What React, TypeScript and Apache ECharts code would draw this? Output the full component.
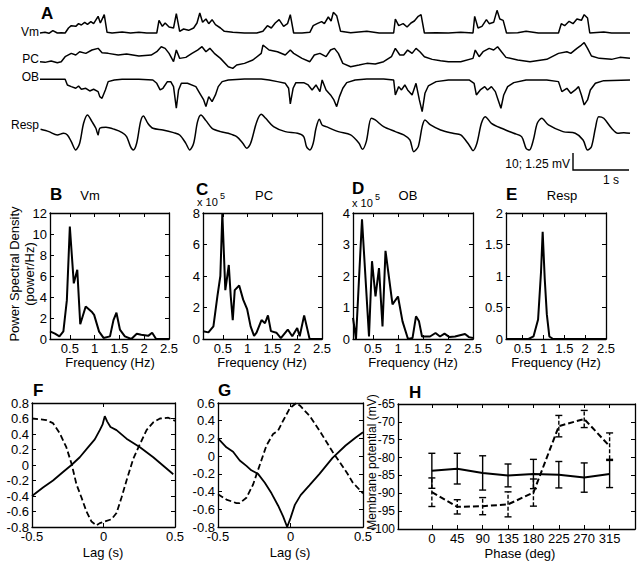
import React, { useEffect, useRef } from "react";
import * as echarts from "echarts";

// ---------- Panel A traces: [time (s), deflection (a.u., up = positive)] ----------
const vmTrace: [number, number][] = [[0,0],[0.09,2],[0.16,-1],[0.23,7],[0.31,0],[0.38,1],[0.45,0],[0.51,15],[0.56,22],[0.64,20],[0.69,28],[0.74,24],[0.8,32],[0.85,26],[0.91,34],[0.96,28],[1.04,50],[1.08,30],[1.15,55],[1.2,2],[1.29,0],[1.47,3],[1.62,0],[1.77,2],[1.91,0],[2.09,0],[2.13,38],[2.19,20],[2.24,30],[2.31,18],[2.39,15],[2.44,58],[2.5,5],[2.57,12],[2.66,8],[2.75,15],[2.81,30],[2.86,60],[2.91,32],[2.97,42],[3.02,28],[3.08,40],[3.14,25],[3.23,15],[3.3,5],[3.45,2],[3.66,0],[3.88,0],[3.99,5],[4.07,22],[4.14,15],[4.21,30],[4.28,40],[4.36,20],[4.43,28],[4.48,55],[4.54,0],[4.69,0],[4.83,2],[4.89,22],[4.96,28],[5.04,34],[5.09,28],[5.16,48],[5.21,36],[5.25,62],[5.31,52],[5.38,5],[5.56,1],[5.85,5],[6.07,0],[6.33,0],[6.36,42],[6.42,22],[6.5,28],[6.57,18],[6.64,30],[6.7,36],[6.77,50],[6.82,55],[6.88,0],[7.09,1],[7.31,0],[7.53,2],[7.75,0],[7.78,50],[7.84,15],[7.91,20],[7.99,40],[8.04,28],[8.12,32],[8.18,68],[8.23,42],[8.29,38],[8.35,0],[8.55,1],[8.7,5],[8.92,0],[9.28,0],[9.33,28],[9.39,22],[9.47,35],[9.54,28],[9.61,42],[9.69,38],[9.74,55],[9.8,45],[9.84,0],[10.09,3],[10.23,0],[10.56,0]];

const pcTrace: [number, number][] = [[0,0],[0.09,-2],[0.2,2],[0.31,-3],[0.38,0],[0.45,15],[0.56,25],[0.64,20],[0.71,30],[0.82,25],[0.93,35],[1.04,40],[1.11,27],[1.22,25],[1.4,20],[1.55,23],[1.77,17],[1.99,20],[2.09,30],[2.17,45],[2.24,40],[2.31,25],[2.39,0],[2.44,35],[2.5,10],[2.61,13],[2.72,25],[2.82,35],[2.9,45],[2.97,30],[3.04,40],[3.12,25],[3.23,10],[3.37,-15],[3.45,-20],[3.52,-10],[3.66,-5],[3.81,5],[3.96,25],[3.99,50],[4.1,35],[4.25,30],[4.39,20],[4.48,35],[4.54,25],[4.69,10],[4.83,0],[4.91,20],[5.01,25],[5.12,15],[5.2,35],[5.27,40],[5.34,25],[5.42,-5],[5.56,-15],[5.71,-10],[5.85,-5],[6,-7],[6.15,0],[6.29,15],[6.36,40],[6.44,20],[6.51,20],[6.58,35],[6.66,25],[6.73,40],[6.8,30],[6.88,15],[7.02,7],[7.17,3],[7.31,0],[7.53,0],[7.75,10],[7.79,35],[7.86,15],[7.93,30],[8.04,40],[8.12,35],[8.19,45],[8.26,30],[8.34,13],[8.55,5],[8.77,0],[9.07,7],[9.28,25],[9.43,30],[9.5,25],[9.61,40],[9.69,50],[9.74,57],[9.8,40],[9.87,17],[10.01,10],[10.23,7],[10.38,13],[10.56,10]];

const obTrace: [number, number][] = [[0,0],[0.45,0],[0.49,-17],[0.56,-22],[0.64,-27],[0.69,-20],[0.74,-30],[0.82,-27],[0.89,-35],[0.96,-30],[1.04,-37],[1.07,-52],[1.11,-57],[1.17,-32],[1.22,-7],[1.33,-2],[1.47,0],[1.77,0],[2.02,-2],[2.09,-12],[2.15,-32],[2.2,-27],[2.28,-7],[2.34,-7],[2.39,-22],[2.44,-87],[2.48,-32],[2.53,-12],[2.64,-12],[2.79,-22],[2.86,-42],[2.93,-62],[2.97,-82],[3.02,-52],[3.08,-67],[3.14,-47],[3.19,-22],[3.26,-7],[3.37,-2],[3.66,1],[3.96,1],[4.1,-2],[4.25,-7],[4.39,-12],[4.45,-27],[4.48,-74],[4.53,-27],[4.58,-10],[4.72,-10],[4.8,-17],[4.87,-32],[4.94,-17],[5.01,-37],[5.05,-2],[5.12,-32],[5.2,-47],[5.26,-62],[5.31,-82],[5.36,-52],[5.42,-27],[5.49,-10],[5.64,-2],[5.85,1],[6.15,1],[6.33,-2],[6.36,-47],[6.42,-22],[6.47,-32],[6.53,-17],[6.58,-32],[6.66,-47],[6.73,-12],[6.79,-62],[6.84,-97],[6.89,-42],[6.95,-20],[7.09,-7],[7.31,-2],[7.68,-2],[7.77,-12],[7.81,-47],[7.88,-32],[7.96,-22],[8.01,-32],[8.08,-22],[8.15,-37],[8.2,-62],[8.25,-87],[8.3,-47],[8.37,-22],[8.48,-10],[8.7,-2],[9.07,-2],[9.28,-7],[9.34,-37],[9.43,-27],[9.5,-42],[9.58,-32],[9.64,-22],[9.69,-47],[9.74,-77],[9.8,-62],[9.85,-32],[9.94,-12],[10.09,-4],[10.56,-2]];

const respTrace: [number, number][] = [[0.01,12],[0.16,5],[0.31,-5],[0.42,0],[0.49,-5],[0.56,-25],[0.64,-50],[0.71,-30],[0.78,30],[0.85,55],[0.93,35],[1,15],[1.04,-5],[1.07,15],[1.18,18],[1.33,12],[1.47,2],[1.55,-10],[1.62,-40],[1.67,-50],[1.73,-30],[1.8,35],[1.85,52],[1.93,30],[2.02,15],[2.2,10],[2.39,2],[2.5,-5],[2.61,-30],[2.68,-50],[2.75,-30],[2.82,35],[2.88,55],[2.97,38],[3.08,15],[3.23,5],[3.37,0],[3.52,-10],[3.63,-30],[3.7,-45],[3.77,-30],[3.88,35],[3.96,57],[4.04,45],[4.18,20],[4.39,5],[4.61,0],[4.72,-10],[4.77,-40],[4.83,-50],[4.89,-30],[4.94,15],[5,42],[5.05,25],[5.12,20],[5.34,5],[5.56,-5],[5.71,-30],[5.77,-48],[5.84,-25],[5.93,45],[6,40],[6.15,20],[6.36,5],[6.51,-5],[6.62,-20],[6.69,-55],[6.77,-40],[6.84,20],[6.89,40],[6.99,25],[7.17,10],[7.39,0],[7.53,-5],[7.68,-35],[7.75,-52],[7.82,-30],[7.9,30],[7.97,50],[8.08,30],[8.26,15],[8.48,0],[8.62,-10],[8.7,-45],[8.76,-50],[8.83,-20],[8.9,30],[8.98,45],[9.1,25],[9.36,5],[9.58,0],[9.72,-20],[9.8,-50],[9.87,-40],[9.94,15],[10,50],[10.09,45],[10.23,15],[10.34,0],[10.45,2],[10.56,0]];

// ---------- Panels B-E: power spectral density [frequency (Hz), power] ----------
const freqTicks = [0.5, 1, 1.5, 2, 2.5];
const vmPsd: [number, number][] = [[0.1,0.73],[0.2,0.51],[0.29,0.25],[0.37,0.73],[0.44,3.7],[0.5,10.7],[0.58,5.3],[0.65,6.6],[0.71,1.4],[0.82,3.1],[0.94,2.6],[0.99,2.3],[1.09,0.7],[1.18,0.1],[1.31,0.25],[1.38,1.8],[1.44,2.5],[1.51,0.9],[1.61,0.25],[1.74,0],[1.85,0.5],[1.94,0.4],[2.08,0.3],[2.16,0.6],[2.24,0],[2.5,0]];
const pcPsd: [number, number][] = [[0.1,0.49],[0.21,0.42],[0.31,0.8],[0.39,2.7],[0.45,4.0],[0.49,8.0],[0.55,3.1],[0.59,4.0],[0.62,4.7],[0.66,2.7],[0.7,1.2],[0.74,3.1],[0.83,3.4],[0.91,2.5],[0.99,1.9],[1.06,0.8],[1.13,0.2],[1.18,0.4],[1.28,1.2],[1.35,1.0],[1.41,1.5],[1.47,0.5],[1.58,0.4],[1.67,0.06],[1.81,0.6],[1.9,0.17],[2.0,0.7],[2.05,0.17],[2.14,1.5],[2.25,0],[2.5,0]];
const obPsd: [number, number][] = [[0.1,0.67],[0.16,0],[0.28,3.8],[0.42,0.08],[0.48,2.47],[0.55,1.35],[0.62,2.25],[0.69,0.4],[0.75,2.8],[0.89,1.1],[1.0,1.35],[1.09,0.56],[1.2,0],[1.29,0.03],[1.36,0.72],[1.42,0.56],[1.48,0.08],[1.64,0.08],[1.75,0.19],[1.84,0.08],[1.93,0.17],[2.03,0.06],[2.14,0.08],[2.34,0.16],[2.42,0.06],[2.5,0.03]];
const respPsd: [number, number][] = [[0.1,0],[0.64,0],[0.76,0.04],[0.87,0.31],[0.94,1.06],[0.98,1.7],[1.03,0.95],[1.08,0.39],[1.14,0.04],[1.23,0],[2.5,0]];

// ---------- Panels F-G: cross-correlation [lag (s), r] ----------
const fSolid: [number, number][] = [[-0.5,-0.4],[-0.423,-0.29],[-0.353,-0.2],[-0.283,-0.09],[-0.224,0],[-0.166,0.1],[-0.107,0.23],[-0.061,0.33],[-0.026,0.45],[-0.007,0.52],[0.009,0.63],[0.026,0.56],[0.049,0.49],[0.091,0.45],[0.161,0.34],[0.255,0.23],[0.348,0.1],[0.418,-0.01],[0.488,-0.12]];
const fDashed: [number, number][] = [[-0.5,0.6],[-0.4,0.58],[-0.353,0.54],[-0.306,0.41],[-0.26,0.23],[-0.224,0.02],[-0.189,-0.25],[-0.154,-0.42],[-0.119,-0.6],[-0.084,-0.73],[-0.049,-0.78],[-0.026,-0.75],[0.009,-0.73],[0.056,-0.7],[0.091,-0.62],[0.126,-0.42],[0.161,-0.2],[0.208,0.08],[0.255,0.27],[0.301,0.45],[0.348,0.55],[0.395,0.6],[0.453,0.61],[0.5,0.57]];
const gSolid: [number, number][] = [[-0.5,0.2],[-0.442,0.1],[-0.396,0.05],[-0.35,-0.05],[-0.304,-0.11],[-0.27,-0.16],[-0.224,-0.2],[-0.177,-0.3],[-0.131,-0.42],[-0.085,-0.56],[-0.051,-0.68],[-0.023,-0.8],[0,-0.7],[0.03,-0.55],[0.07,-0.44],[0.13,-0.33],[0.2,-0.2],[0.29,-0.02],[0.38,0.12],[0.45,0.21],[0.5,0.27]];
const gDashed: [number, number][] = [[-0.5,-0.43],[-0.442,-0.49],[-0.373,-0.53],[-0.35,-0.53],[-0.304,-0.47],[-0.258,-0.32],[-0.212,-0.1],[-0.166,0.12],[-0.12,0.25],[-0.085,0.29],[-0.051,0.4],[-0.005,0.54],[0.04,0.6],[0.066,0.57],[0.134,0.45],[0.203,0.28],[0.29,0.05],[0.39,-0.19],[0.43,-0.3],[0.5,-0.42]];

// ---------- Panel H: membrane potential vs respiratory phase ----------
const hPhase = [0, 45, 90, 135, 180, 225, 270, 315];
const hSolidMean = [-83.7, -83.1, -84.3, -85.0, -84.6, -84.8, -85.6, -84.6];
const hSolidErr = [4.9, 4.3, 4.8, 3.2, 4.1, 3.7, 4.1, 3.8];
const hDashMean = [-89.7, -93.8, -93.6, -93.1, -89.8, -71.2, -69.2, -76.8];
const hDashErr = [4.0, 2.0, 2.4, 3.5, 3.8, 3.0, 2.4, 3.7];

const FF = "'Liberation Sans', Arial, Helvetica, sans-serif";

export default function App() {
  const ref = useRef<HTMLDivElement>(null);
  useEffect(() => {
    const chart = echarts.init(ref.current!, null, { renderer: "svg" });
    const grids: any[] = [];
    const xAxes: any[] = [];
    const yAxes: any[] = [];
    const series: any[] = [];

    const addTrace = (data: [number, number][], top: number, height: number, ymin: number, ymax: number, smooth = false) => {
      const gi = grids.length;
      grids.push({ left: 40, top, width: 590, height });
      const xi = xAxes.length;
      xAxes.push({ gridIndex: gi, type: "value", min: 0, max: 10.56, show: false });
      const yi = yAxes.length;
      yAxes.push({ gridIndex: gi, type: "value", min: ymin, max: ymax, show: false });
      series.push({ type: "line", xAxisIndex: xi, yAxisIndex: yi, data, symbol: "none", smooth: smooth ? 0.3 : false, lineStyle: { color: "#000", width: 1.5 }, silent: true });
    };

    const lbl = { color: "#000", fontFamily: FF, fontSize: 13 };
    const tick = { show: true, inside: true, length: 4, lineStyle: { color: "#000", width: 1 } };
    const line = { show: true, onZero: false, lineStyle: { color: "#000", width: 1.3 } };

    const addBox = (rect: number[], x: any, y: any, yFont = 13) => {
      const [left, top, width, height] = rect;
      const gi = grids.length;
      grids.push({ left, top, width, height });
      const xi = xAxes.length;
      const xBase: any = { gridIndex: gi, type: "value", min: x.min, max: x.max, splitLine: { show: false }, axisLine: line };
      if (x.interval) xBase.interval = x.interval;
      const xTick: any = { ...tick };
      if (x.custom) xTick.customValues = x.custom;
      const xLab: any = { ...lbl, margin: 3, showMinLabel: true, showMaxLabel: true };
      if (x.custom) xLab.customValues = x.custom;
      xAxes.push({ ...xBase, position: "bottom", axisTick: xTick, axisLabel: xLab });
      xAxes.push({ ...xBase, position: "top", axisTick: xTick, axisLabel: { show: false } });
      const yi = yAxes.length;
      const yBase: any = { gridIndex: gi, type: "value", min: y.min, max: y.max, interval: y.interval, splitLine: { show: false }, axisLine: line, axisTick: tick };
      yAxes.push({ ...yBase, position: "left", axisLabel: { ...lbl, fontSize: yFont, margin: 3 } });
      yAxes.push({ ...yBase, position: "right", axisLabel: { show: false } });
      return { xi, yi };
    };

    const addLine = (ax: { xi: number; yi: number }, data: any, dashed = false, width = 1.8) => {
      series.push({ type: "line", xAxisIndex: ax.xi, yAxisIndex: ax.yi, data, symbol: "none", silent: true,
        lineStyle: { color: "#000", width, type: dashed ? [6, 3] : "solid" } });
    };

    // Panel A
    addTrace(vmTrace, 9, 26, -6, 72);
    addTrace(pcTrace, 41.7, 28, -24, 60);
    addTrace(obTrace, 77.3, 35.3, -100, 6);
    addTrace(respTrace, 113.3, 40, -60, 60, true);

    // Panels B-E
    const fx = { min: 0.1, max: 2.5, custom: freqTicks };
    const b = addBox([50, 213, 119, 126], fx, { min: 0, max: 12, interval: 2 });
    addLine(b, vmPsd, false, 2);
    const c = addBox([203, 213, 119, 126], fx, { min: 0, max: 8, interval: 2 });
    addLine(c, pcPsd, false, 2);
    const d = addBox([353, 213, 120, 126], fx, { min: 0, max: 4, interval: 1 });
    addLine(d, obPsd, false, 2);
    const e = addBox([506, 213, 100, 126], fx, { min: 0, max: 2, interval: 0.5 });
    addLine(e, respPsd, false, 2);

    // Panels F-G
    const lx = { min: -0.5, max: 0.5, interval: 0.5 };
    const f = addBox([32, 403, 143, 124], lx, { min: -0.8, max: 0.8, interval: 0.2 });
    addLine(f, fSolid);
    addLine(f, fDashed, true);
    const g = addBox([218, 403, 145, 124], lx, { min: -0.8, max: 0.6, interval: 0.2 });
    addLine(g, gSolid);
    addLine(g, gDashed, true);

    // Panel H
    const h = addBox([398, 404, 237, 125], { min: -60, max: 360, custom: hPhase }, { min: -100, max: -65, interval: 5 }, 12);
    addLine(h, hPhase.map((p, i) => [p, hSolidMean[i]]), false, 2);
    addLine(h, hPhase.map((p, i) => [p, hDashMean[i]]), true, 2);
    const errSeries = (mean: number[], err: number[], dashed: boolean) => ({
      type: "custom", xAxisIndex: h.xi, yAxisIndex: h.yi, silent: true,
      data: hPhase.map((p, i) => [p, mean[i] - err[i], mean[i] + err[i]]),
      renderItem: (_p: any, api: any) => {
        const lo = api.coord([api.value(0), api.value(1)]);
        const hi = api.coord([api.value(0), api.value(2)]);
        const st = { stroke: "#000", lineWidth: 1.4, lineDash: dashed ? [4, 2] : undefined };
        const w = 3.5;
        return { type: "group", children: [
          { type: "line", shape: { x1: lo[0], y1: lo[1], x2: hi[0], y2: hi[1] }, style: st },
          { type: "line", shape: { x1: lo[0] - w, y1: lo[1], x2: lo[0] + w, y2: lo[1] }, style: { stroke: "#000", lineWidth: 1.4 } },
          { type: "line", shape: { x1: hi[0] - w, y1: hi[1], x2: hi[0] + w, y2: hi[1] }, style: { stroke: "#000", lineWidth: 1.4 } },
        ] };
      },
    });
    series.push(errSeries(hSolidMean, hSolidErr, false));
    series.push(errSeries(hDashMean, hDashErr, true));

    const txt = (text: string, x: number, y: number, size = 13, opts: any = {}) => ({
      type: "text", x, y, rotation: opts.rotation || 0, silent: true,
      style: { text, fill: "#000", font: `${opts.bold ? "bold " : ""}${size}px ${FF}`, textAlign: opts.align || "center", textVerticalAlign: "middle" },
    });

    const graphic: any[] = [
      txt("A", 41, 13, 17, { bold: true, align: "left" }),
      txt("Vm", 39, 32, 12, { align: "right" }),
      txt("PC", 39, 59, 12, { align: "right" }),
      txt("OB", 39, 77, 12, { align: "right" }),
      txt("Resp", 39, 125, 12, { align: "right" }),
      { type: "polyline", silent: true, shape: { points: [[573, 153], [573, 170], [629, 170]] }, style: { stroke: "#000", lineWidth: 1.4, fill: null } },
      txt("10; 1.25 mV", 570, 164, 12, { align: "right" }),
      txt("1 s", 611, 180, 12),
      txt("B", 50, 194, 17, { bold: true, align: "left" }),
      txt("Vm", 90, 195, 13),
      txt("C", 196, 189, 17, { bold: true, align: "left" }),
      txt("x 10", 197, 202, 11, { align: "left" }),
      txt("5", 220, 196, 9, { align: "left" }),
      txt("PC", 264, 195, 13),
      txt("D", 352, 188, 17, { bold: true, align: "left" }),
      txt("x 10", 352, 203, 11, { align: "left" }),
      txt("5", 375, 197, 9, { align: "left" }),
      txt("OB", 408, 195, 13),
      txt("E", 506, 194, 17, { bold: true, align: "left" }),
      txt("Resp", 562, 195, 13),
      txt("Power Spectral Density", 14, 274, 13, { rotation: Math.PI / 2 }),
      txt("(power/Hz)", 29, 274, 13, { rotation: Math.PI / 2 }),
      txt("Frequency (Hz)", 110, 362, 13),
      txt("Frequency (Hz)", 262, 362, 13),
      txt("Frequency (Hz)", 413, 362, 13),
      txt("Frequency (Hz)", 556, 362, 13),
      txt("F", 33, 390, 17, { bold: true, align: "left" }),
      txt("G", 218, 390, 17, { bold: true, align: "left" }),
      txt("H", 409, 392, 17, { bold: true, align: "left" }),
      txt("Lag (s)", 103, 552, 13),
      txt("Lag (s)", 290, 552, 13),
      txt("Phase (deg)", 520, 553, 13),
      txt("Membrane potential (mV)", 372, 462, 12, { rotation: Math.PI / 2 }),
    ];

    chart.setOption({
      animation: false,
      backgroundColor: "#fff",
      textStyle: { fontFamily: FF },
      grid: grids,
      xAxis: xAxes,
      yAxis: yAxes,
      series,
      graphic,
    });
    return () => chart.dispose();
  }, []);
  return <div ref={ref} style={{ position: "absolute", left: 0, top: 0, width: 640, height: 561 }} />;
}
